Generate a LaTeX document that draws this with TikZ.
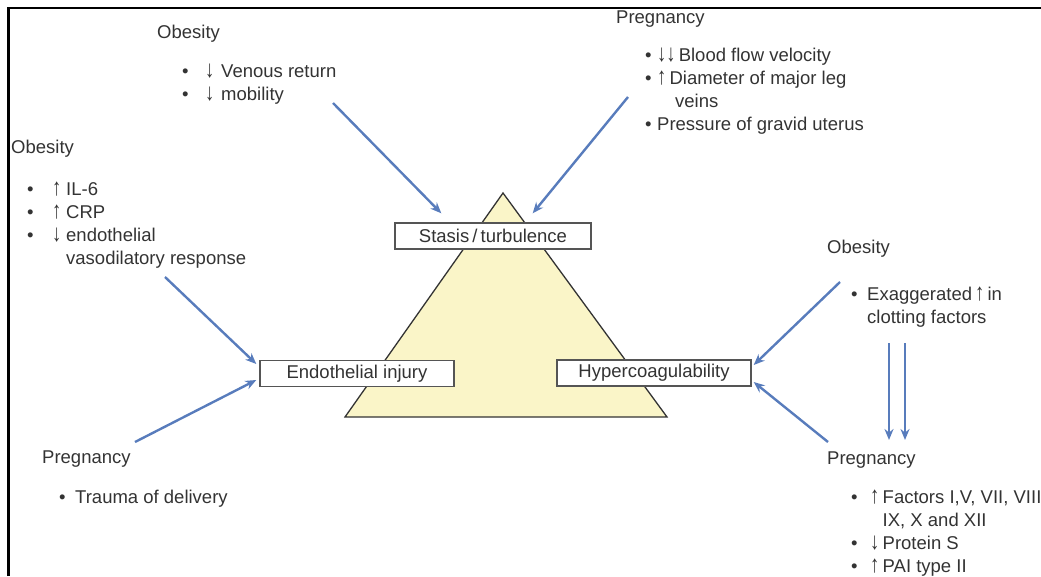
\documentclass[tikz,border=0pt]{standalone}
\usepackage{fontspec}
\usepackage{graphicx}
\setmainfont{Liberation Sans}
\usetikzlibrary{arrows.meta,calc}
\definecolor{txt}{HTML}{333333}
\definecolor{arr}{RGB}{88,124,188}
\definecolor{tri}{RGB}{250,245,200}
\definecolor{boxc}{HTML}{555555}
\setlength\tabcolsep{0pt}
\newcommand\fs{\fontsize{18.5}{23}\selectfont}
\newcommand\upa{\smash{\scalebox{1}[1.3]{↑}}}
\newcommand\dna{\smash{\raisebox{-0.5pt}{\scalebox{1}[1.3]{↓}}}}
\tikzset{
  head/.style={anchor=base west, inner sep=0pt, text=txt, font=\fs},
  blist/.style={anchor=base west, inner sep=0pt, text=txt, font=\fs},
  cause/.style={draw=boxc, line width=1.4pt, fill=white, text=txt, font=\fs,
    inner sep=0pt, minimum height=26pt},
  link/.style={draw=arr, line width=2.4pt, -{Stealth[length=11pt,width=9pt]}},
  frame/.style={line width=2.4pt, draw=black}
}
\begin{document}
\begin{tikzpicture}[x=1pt,y=-1pt]
\useasboundingbox (0,0) rectangle (1041,576);
\draw[frame] (8.5,576) -- (8.5,7.8) -- (1041,7.8);

% triangle
\draw[fill=tri, draw=txt, line width=1.3pt] (503,193) -- (667,417) -- (345,417) -- cycle;

% boxes
\node[cause, minimum width=196pt] (stasis) at (493,236) {Stasis\,/\,turbulence};
\node[cause, minimum width=194pt] (endo) at (357,373.5) {Endothelial injury};
\node[cause, minimum width=194pt] (hyper) at (654,373) {Hypercoagulability};

% top obesity
\node[head] (hA) at (157,38) {Obesity};
\node[blist] (lA) at (182,77) {\begin{tabular}[t]{@{}p{23pt}p{16pt}l@{}}
•&\dna&Venous return\\
•&\dna&mobility
\end{tabular}};

% left obesity
\node[head] (hB) at (11,153) {Obesity};
\node[blist] (lB) at (27,195) {\begin{tabular}[t]{@{}p{25pt}p{14pt}l@{}}
•&\upa&IL-6\\
•&\upa&CRP\\
•&\dna&endothelial\\
&&vasodilatory response
\end{tabular}};

% top-right pregnancy
\node[head] (hC) at (616,23) {Pregnancy};
\node[blist] (lC) at (645,61) {\begin{tabular}[t]{@{}p{12pt}l@{}}
•&\dna\dna\,Blood flow velocity\\
•&\upa\,Diameter of major leg\\
&\hspace{18pt}veins\\
•&Pressure of gravid uterus
\end{tabular}};

% right obesity
\node[head] (hD) at (827,253) {Obesity};
\node[blist] (lD) at (851,300) {\begin{tabular}[t]{@{}p{16pt}l@{}}
•&Exaggerated\,\upa\,in\\
&clotting factors
\end{tabular}};

% right pregnancy
\node[head] (hE) at (827,464) {Pregnancy};
\node[blist] (lE) at (851,503) {\begin{tabular}[t]{@{}p{19pt}p{12.5pt}l@{}}
•&\upa&Factors I,V, VII, VIII\\
&&IX, X and XII\\
•&\dna&Protein S\\
•&\upa&PAI type II
\end{tabular}};

% bottom-left pregnancy
\node[head] (hF) at (42,463) {Pregnancy};
\node[blist] (lF) at (59,503) {\begin{tabular}[t]{@{}p{16pt}l@{}}
•&Trauma of delivery
\end{tabular}};

% connector start points
\coordinate (sA) at (333,103);
\coordinate (sC) at (628,97);
\coordinate (sB) at (165,277);
\coordinate (sF) at (135,442);
\coordinate (sD) at (840,282);
\coordinate (sE) at (828,442);
\coordinate (d1s) at (889,343);
\coordinate (d2s) at (905,343);
\coordinate (d1e) at (889,440);
\coordinate (d2e) at (905,440);

\draw[link] (sA) -- ($(stasis.north west)+(47,-9)$);
\draw[link] (sC) -- ($(stasis.north east)+(-59,-9)$);
\draw[link] (sB) -- ($(endo.west)+(-3,-9.5)$);
\draw[link] (sF) -- ($(endo.west)+(-3,6.5)$);
\draw[link] (sD) -- ($(hyper.east)+(2,-8)$);
\draw[link] (sE) -- ($(hyper.east)+(2,9)$);
\draw[link] (d1s) -- (d1e);
\draw[link] (d2s) -- (d2e);
\end{tikzpicture}
\end{document}
